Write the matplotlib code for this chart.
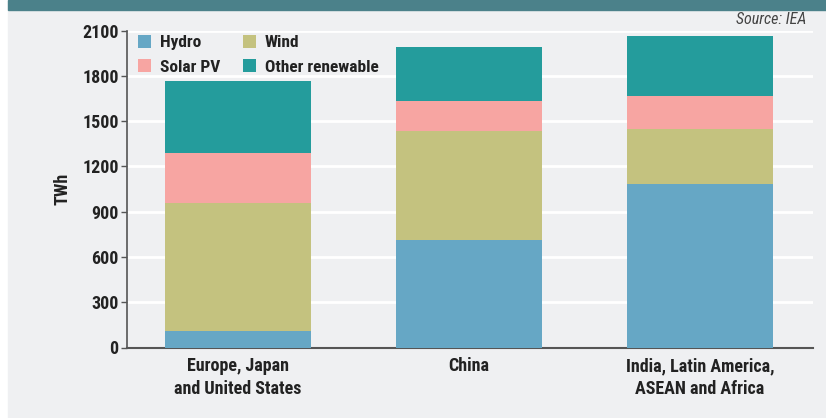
import matplotlib.pyplot as plt
import numpy as np

# regions and renewable generation by source (TWh)
regions = ['Europe, Japan\nand United States', 'China',
           'India, Latin America,\nASEAN and Africa']
hydro = [111, 714, 1085]
wind = [846, 722, 362]
solar_pv = [329, 198, 221]
other = [479, 354, 397]

sources = ['Hydro', 'Wind', 'Solar PV', 'Other renewable']
colours = ['#66a7c5', '#c4c27f', '#f7a5a2', '#249c9c']
yticks = [0, 300, 600, 900, 1200, 1500, 1800, 2100]

plt.rcParams['font.family'] = ['Roboto Condensed', 'Liberation Sans', 'DejaVu Sans']

bg = '#eff0f2'
ink = '#222222'
fig = plt.figure(figsize=(8.26, 4.18), dpi=100)
fig.patch.set_facecolor('white')
# panel background and header band
fig.add_artist(plt.Rectangle((8 / 826, 0), 1, 1, transform=fig.transFigure,
                             color=bg, zorder=-10))
fig.add_artist(plt.Rectangle((8 / 826, 1 - 10 / 418), 1, 10 / 418,
                             transform=fig.transFigure, color='#4b818a', zorder=-9))

ax = fig.add_axes([127 / 826, 70.5 / 418, 686 / 826, 317 / 418])
ax.set_facecolor(bg)

x = np.arange(len(regions))
series = [hydro, wind, solar_pv, other]
bottom = np.zeros(len(regions))
handles = []
for name, vals, col in zip(sources, series, colours):
    h = ax.bar(x, vals, 0.63, bottom=bottom, color=col, label=name, zorder=3)
    handles.append(h)
    bottom += np.array(vals)

ax.set_xlim(-0.48, 2.49)
ax.set_ylim(0, 2100)
ax.set_yticks(yticks)
ax.set_yticklabels([str(v) for v in yticks], fontsize=13, fontweight='bold',
                   color=ink)
ax.set_xticks(x)
ax.set_xticklabels(regions, fontsize=13, fontweight='bold', color=ink,
                   linespacing=1.32)
ax.tick_params(axis='x', length=0, pad=7)
ax.tick_params(axis='y', length=4, width=1, color='#555555', pad=2)
ax.yaxis.grid(True, color='white', linewidth=2, zorder=0)
ax.set_axisbelow(True)

for side in ['top', 'right']:
    ax.spines[side].set_visible(False)
ax.spines['left'].set_color('#555555')
ax.spines['bottom'].set_color('#555555')
ax.spines['left'].set_linewidth(1.2)
ax.spines['bottom'].set_linewidth(1.5)

ax.set_ylabel('TWh', fontsize=13, fontweight='bold', color=ink, labelpad=8)

leg = ax.legend(handles=[handles[0], handles[2], handles[1], handles[3]],
                labels=['Hydro', 'Solar PV', 'Wind', 'Other renewable'],
                ncol=2, loc='upper left', bbox_to_anchor=(-0.007, 1.035),
                frameon=False, handlelength=0.75, handleheight=0.75,
                handletextpad=0.5, columnspacing=1.35, labelspacing=0.5,
                prop={'size': 12.5, 'weight': 'bold'})
for t in leg.get_texts():
    t.set_color(ink)

fig.text(806 / 826, 1 - 20 / 418, 'Source: IEA', ha='right', va='center',
         fontsize=11.5, style='italic', color='#444444')

fig.savefig('out.png', dpi=100, facecolor=fig.get_facecolor())
